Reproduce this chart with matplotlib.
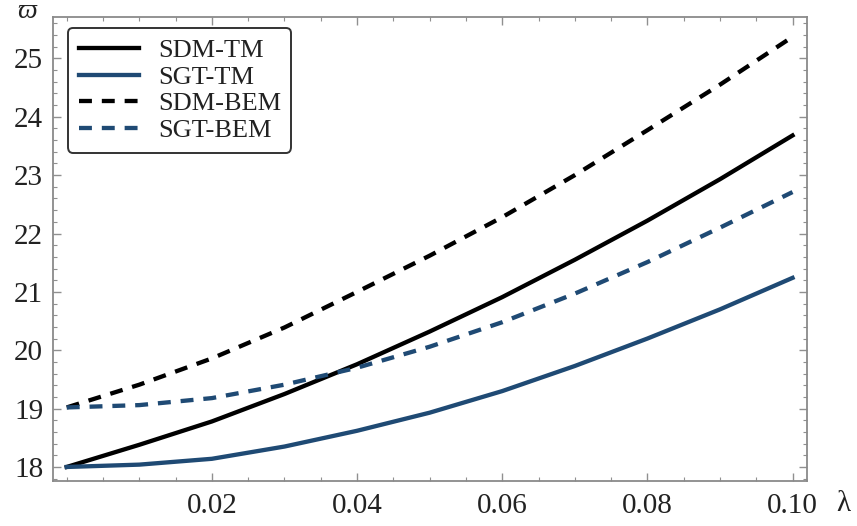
import numpy as np
import matplotlib
matplotlib.use('Agg')
import matplotlib.pyplot as plt
from matplotlib.ticker import FixedLocator, MultipleLocator

# Dimensionless frequency vs. length-scale parameter
lam = [0.00, 0.01, 0.02, 0.03, 0.04, 0.05, 0.06, 0.07, 0.08, 0.09, 0.10]
sdm_tm = [18.00, 18.38, 18.78, 19.25, 19.76, 20.32, 20.91, 21.55, 22.22, 22.93, 23.68]
sgt_tm = [18.00, 18.04, 18.14, 18.35, 18.62, 18.93, 19.30, 19.73, 20.20, 20.70, 21.24]
sdm_bem = [19.02, 19.41, 19.86, 20.39, 21.00, 21.62, 22.28, 23.00, 23.77, 24.55, 25.37]
sgt_bem = [19.02, 19.06, 19.18, 19.41, 19.70, 20.06, 20.48, 20.97, 21.51, 22.10, 22.71]

xticks = [0.02, 0.04, 0.06, 0.08, 0.10]
xtick_labels = ['0.02', '0.04', '0.06', '0.08', '0.10']
yticks = [18, 19, 20, 21, 22, 23, 24, 25]

navy = '#1f4a74'
serif = ['Liberation Serif', 'DejaVu Serif']
plt.rcParams['font.family'] = serif

fig = plt.figure(figsize=(8.57, 5.26), dpi=100)
ax = fig.add_axes([0.0618, 0.0856, 0.8799, 0.8821])

lw = 3.1
dash = (0, (3.0, 2.3))
ax.plot(lam, sdm_tm, color='black', lw=lw, label='SDM-TM')
ax.plot(lam, sgt_tm, color=navy, lw=lw, label='SGT-TM')
ax.plot(lam, sdm_bem, color='black', lw=lw, ls=dash, dash_capstyle='butt', label='SDM-BEM')
ax.plot(lam, sgt_bem, color=navy, lw=lw, ls=dash, dash_capstyle='butt', label='SGT-BEM')

ax.set_xlim(-0.0019, 0.102)
ax.set_ylim(17.76, 25.71)

ax.xaxis.set_major_locator(FixedLocator(xticks))
ax.set_xticklabels(xtick_labels)
ax.xaxis.set_minor_locator(MultipleLocator(0.005))
ax.yaxis.set_major_locator(FixedLocator(yticks))
ax.yaxis.set_minor_locator(MultipleLocator(0.2))

ax.tick_params(which='both', direction='in', top=True, right=True, colors='#909090',
               labelcolor='#222222', labelsize=21)
ax.tick_params(which='major', length=6, width=1.0)
ax.tick_params(which='minor', length=3, width=0.8)
ax.tick_params(axis='y', pad=7)
ax.tick_params(axis='x', pad=9)

for s in ax.spines.values():
    s.set_color('#8a8a8a')
    s.set_linewidth(1.3)

# axis symbols
fig.text(27 / 857, 1 - 12 / 526, '\u03d6', fontsize=20, style='italic',
         ha='center', va='center', color='#222222')
fig.text(843 / 857, 1 - 504 / 526, '\u03bb', fontsize=21,
         ha='center', va='center', color='#222222')

leg = ax.legend(loc='upper left', bbox_to_anchor=(0.020, 0.976), fontsize=19,
                handlelength=2.3, handletextpad=0.7, labelspacing=0.12,
                borderpad=0.4, borderaxespad=0, frameon=True, fancybox=True)
frame = leg.get_frame()
frame.set_edgecolor('#333333')
frame.set_linewidth(1.4)
frame.set_facecolor('white')
frame.set_alpha(1)
for t in leg.get_texts():
    t.set_color('#222222')

fig.savefig('out.png', dpi=100)
